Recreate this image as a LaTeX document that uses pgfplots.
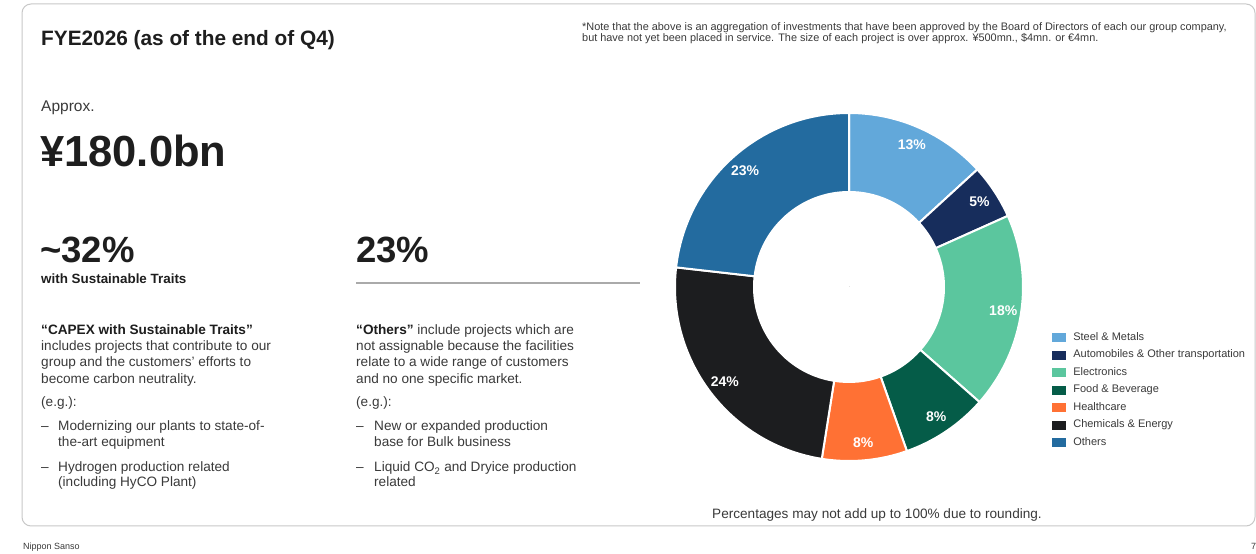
\documentclass[border=0pt]{standalone}
\usepackage{fontspec}
\setmainfont{Liberation Sans}
\usepackage{pgfplots}
\usepackage{pgfplotstable}
\pgfplotsset{compat=1.18}
\definecolor{sc0}{HTML}{62A8DA}
\definecolor{sc1}{HTML}{172D5C}
\definecolor{sc2}{HTML}{5BC69E}
\definecolor{sc3}{HTML}{055C48}
\definecolor{sc4}{HTML}{FF7134}
\definecolor{sc5}{HTML}{1C1D1F}
\definecolor{sc6}{HTML}{236B9F}
\definecolor{ink}{HTML}{1E1E1E}
\definecolor{body}{HTML}{3A3A3A}
\definecolor{framec}{HTML}{C8C8C8}
\definecolor{rulec}{HTML}{AAAAAA}
\newcommand\fs[1]{\fontsize{#1}{#1}\selectfont}
\newcommand\T[4]{\node[anchor=base west,inner sep=0pt,text=#4] at (#1,{554-#2}) {#3};}
\pgfplotsset{swatch/.style={legend image code/.code={\fill[##1] (0pt,-4.5pt) rectangle (14pt,4.5pt);}}}

% share of each segment (%), start of the segment (cumulative %), printed label, colour index
\pgfplotstableread{
x y val cum lab ci
0 0 13.2 0    13 0
0 0 5.1  13.2 5  1
0 0 18.2 18.3 18 2
0 0 8.1  36.5 8  3
0 0 7.9  44.6 8  4
0 0 24.3 52.5 24 5
0 0 23.2 76.8 23 6
}\donut

\begin{document}
\begin{tikzpicture}[x=1pt,y=1pt]
\useasboundingbox (0,0) rectangle (1256,554);
\fill[white] (0,0) rectangle (1256,554);
\draw[framec, line width=1pt, rounded corners=9pt] (22,{554-4}) rectangle (1255,{554-526});

% ---------- left column
\T{41}{46}{\bfseries\fs{20.8}FYE2026 (as of the end of Q4)}{ink}
\T{41}{112}{\fs{15.5}Approx.}{body}
\T{40}{167}{\bfseries\fs{43.5}¥180.0bn}{ink}
\T{40}{263}{\bfseries\fs{36.5}\textasciitilde32\%}{ink}
\T{41}{284}{\bfseries\fs{13.4}with Sustainable Traits}{ink}
\T{41}{335}{\bfseries\fs{13.6}“CAPEX with Sustainable Traits”}{ink}
\T{41}{351}{\fs{13.6}includes projects that contribute to our}{body}
\T{41}{367}{\fs{13.6}group and the customers' efforts to}{body}
\T{41}{384}{\fs{13.6}become carbon neutrality.}{body}
\T{41}{407}{\fs{13.6}(e.g.):}{body}
\T{41}{431}{\fs{13.6}–}{body}
\T{58}{431}{\fs{13.6}Modernizing our plants to state-of-}{body}
\T{58}{447}{\fs{13.6}the-art equipment}{body}
\T{41}{472}{\fs{13.6}–}{body}
\T{58}{472}{\fs{13.6}Hydrogen production related}{body}
\T{58}{487}{\fs{13.6}(including HyCO Plant)}{body}

% ---------- middle column
\T{356}{263}{\bfseries\fs{36.5}23\%}{ink}
\draw[rulec, line width=1.5pt] (356,{554-283}) -- (640,{554-283});
\T{356}{335}{\fs{13.6}{\bfseries\color{ink}“Others”} include projects which are}{body}
\T{356}{351}{\fs{13.6}not assignable because the facilities}{body}
\T{356}{367}{\fs{13.6}relate to a wide range of customers}{body}
\T{356}{384}{\fs{13.6}and no one specific market.}{body}
\T{356}{407}{\fs{13.6}(e.g.):}{body}
\T{356}{431}{\fs{13.6}–}{body}
\T{374}{431}{\fs{13.6}New or expanded production}{body}
\T{374}{447}{\fs{13.6}base for Bulk business}{body}
\T{356}{472}{\fs{13.6}–}{body}
\T{374}{472}{\fs{13.6}Liquid CO\textsubscript{2} and Dryice production}{body}
\T{374}{487}{\fs{13.6}related}{body}

% ---------- note, footers
\T{582}{31}{\fs{10.9}*Note that the above is an aggregation of investments that have been approved by the Board of Directors of each our group company,}{body}
\T{582}{42}{\fs{10.9}but have not yet been placed in service. The size of each project is over approx. ¥500mn., \$4mn. or €4mn.}{body}
\node[anchor=base,inner sep=0pt,text=body] at (877,{554-519}) {\fs{13.6}Percentages may not add up to 100\% due to rounding.};
\T{23}{550}{\fs{9}Nippon Sanso}{body}
\T{1251}{550}{\fs{9}7}{body}

% ---------- donut
\begin{axis}[
  at={(849pt,267pt)}, anchor=origin,
  hide axis, scale only axis, width=346pt, height=346pt,
  xmin=-1, xmax=1, ymin=-1, ymax=1, clip=false,
  legend style={at={(1.087,0.37)}, anchor=north west, draw=none, fill=none,
    font=\fs{11}, text=body, inner sep=0pt, row sep=6.5pt, column sep=7pt,
    nodes={inner sep=0pt, text height=8pt, text depth=3pt}},
  legend cell align=left,
]
\addplot[forget plot, scatter, only marks, mark=*, mark size=0pt,
  scatter/use mapped color={draw=none, fill=none},
  visualization depends on={\thisrow{val}\as\val},
  visualization depends on={\thisrow{cum}\as\cum},
  visualization depends on={\thisrow{lab}\as\lab},
  visualization depends on={\thisrow{ci}\as\ci},
  scatter/@pre marker code/.code={%
    \pgfmathsetmacro\aa{90-3.6*\cum}%
    \pgfmathsetmacro\bb{90-3.6*(\cum+\val)}%
    \pgfmathsetmacro\mm{(\aa+\bb)/2}%
    \pgfmathtruncatemacro\cidx{\ci}%
    \pgfmathtruncatemacro\labi{\lab}%
    \fill[fill=sc\cidx, draw=white, line width=2pt]
      (\aa:174pt) arc[start angle=\aa, end angle=\bb, radius=174pt]
      -- (\bb:95pt) arc[start angle=\bb, end angle=\aa, radius=95pt] -- cycle;
    \node[text=white, font=\bfseries\fs{14}, inner sep=0pt] at (\mm:156pt) {\labi\%};
  },
  scatter/@post marker code/.code={},
] table[x=x, y=y] {\donut};
\addlegendimage{swatch, fill=sc0, draw=none}\addlegendentry{Steel \& Metals}
\addlegendimage{swatch, fill=sc1, draw=none}\addlegendentry{Automobiles \& Other transportation}
\addlegendimage{swatch, fill=sc2, draw=none}\addlegendentry{Electronics}
\addlegendimage{swatch, fill=sc3, draw=none}\addlegendentry{Food \& Beverage}
\addlegendimage{swatch, fill=sc4, draw=none}\addlegendentry{Healthcare}
\addlegendimage{swatch, fill=sc5, draw=none}\addlegendentry{Chemicals \& Energy}
\addlegendimage{swatch, fill=sc6, draw=none}\addlegendentry{Others}
\end{axis}
\end{tikzpicture}
\end{document}
